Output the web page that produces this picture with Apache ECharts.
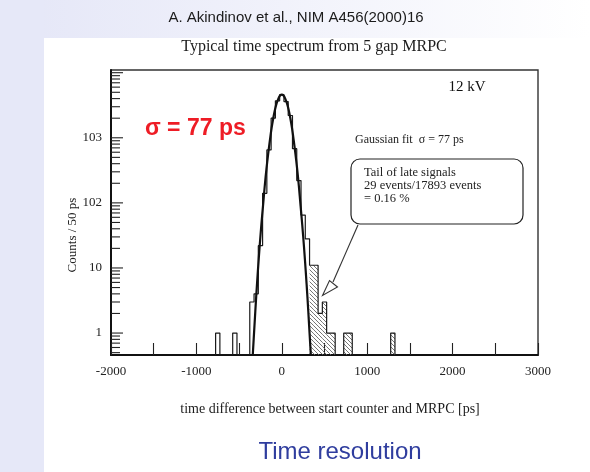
<!DOCTYPE html>
<html>
<head>
<meta charset="utf-8">
<script src="https://cdn.jsdelivr.net/npm/echarts@6/dist/echarts.min.js"></script>
<style>
  html, body { margin: 0; padding: 0; background: #ffffff; }
  #chart { width: 590px; height: 472px; }
</style>
</head>
<body>
<div id="chart"></div>
<script>
// Histogram of start-counter vs MRPC time differences (50 ps bins, non-empty bins only)
const binCenters = [-750, -550, -350, -300, -250, -200, -150, -100, -50, 0, 50, 100, 150, 200, 250, 300, 350, 400, 450, 500, 550, 600, 750, 800, 1300];
const binCounts  = [1, 1, 3, 4, 22, 140, 650, 2000, 3700, 4600, 3600, 2200, 680, 220, 65, 28, 11, 11, 2, 3, 1, 1, 1, 1, 1];

// Late-signal tail bins (hatched)
const tailCenters = [350, 400, 450, 500, 550, 600, 750, 800, 1300];

// Gaussian fit curve, sampled points
const fitTimes  = [-340, -320, -300, -280, -260, -240, -220, -200, -180, -160, -140, -120, -100, -80, -60, -40, -20, 0, 20, 40, 60, 80, 100, 120, 140, 160, 180, 200, 220, 240, 260, 280, 300, 320, 340];
const fitCounts = [0.46, 1.3, 3.6, 9, 21, 45, 90, 180, 330, 560, 900, 1400, 2000, 2700, 3400, 4000, 4450, 4600, 4450, 4000, 3400, 2700, 2000, 1400, 900, 560, 330, 180, 90, 45, 21, 9, 3.6, 1.3, 0.46];

// Axis tick labels
const xTickValues = [-2000, -1000, 0, 1000, 2000, 3000];
const xTickLabels = ['-2000', '-1000', '0', '1000', '2000', '3000'];
const yTickValues = [1, 10, 100, 1000];
const yTickLabels = ['1', '10', '102', '103'];

const BIN_WIDTH = 50;
const X_MIN = -2000, X_MAX = 3000;
const Y_MIN = 0.46, Y_MAX = 11000;

const SERIF = '"Liberation Serif", "DejaVu Serif", serif';
const SANS = '"Liberation Sans", Arial, sans-serif';

// Step outline of the histogram; gaps drop to the bottom of the frame
function buildOutline() {
  const pts = [];
  for (let i = 0; i < binCenters.length; i++) {
    const c = binCenters[i], n = binCounts[i];
    const left = c - BIN_WIDTH / 2, right = c + BIN_WIDTH / 2;
    const prevRight = i > 0 ? binCenters[i - 1] + BIN_WIDTH / 2 : null;
    const nextLeft = i < binCenters.length - 1 ? binCenters[i + 1] - BIN_WIDTH / 2 : null;
    if (prevRight !== left) pts.push([left, Y_MIN]);
    pts.push([left, n]);
    pts.push([right, n]);
    if (nextLeft !== right) pts.push([right, Y_MIN]);
  }
  return pts;
}

// Diagonal hatch pattern for the tail bins
function makeHatch() {
  const s = 4;
  const cv = document.createElement('canvas');
  cv.width = s; cv.height = s;
  const g = cv.getContext('2d');
  g.strokeStyle = '#666666';
  g.lineWidth = 0.9;
  g.beginPath();
  g.moveTo(-1, -1); g.lineTo(s + 1, s + 1);
  g.moveTo(-1, s - 1); g.lineTo(1, s + 1);
  g.moveTo(s - 1, -1); g.lineTo(s + 1, 1);
  g.stroke();
  return { image: cv, repeat: 'repeat' };
}
const hatch = makeHatch();

// Minor/major tick values for the log axis
const yMinorTicks = [];
for (let e = -1; e <= 4; e++) {
  for (let m = 1; m <= 9; m++) {
    const v = m * Math.pow(10, e);
    if (v >= Y_MIN && v <= Y_MAX) yMinorTicks.push([X_MIN, v, m === 1 ? 1 : 0]);
  }
}

const countByCenter = {};
binCenters.forEach((c, i) => { countByCenter[c] = binCounts[i]; });

const chart = echarts.init(document.getElementById('chart'), null, { renderer: 'canvas' });

chart.setOption({
  animation: false,
  backgroundColor: '#ffffff',
  grid: {
    left: 111, right: 52, top: 70, bottom: 117,
    show: true, borderColor: '#333333', borderWidth: 1.4, backgroundColor: 'transparent'
  },
  xAxis: {
    type: 'value', min: X_MIN, max: X_MAX, interval: 500,
    axisLine: { show: true, onZero: false, lineStyle: { color: '#111', width: 2 } },
    axisTick: { show: true, inside: true, length: 12, lineStyle: { color: '#222', width: 1.1 } },
    splitLine: { show: false },
    axisLabel: {
      margin: 10, fontFamily: SERIF, fontSize: 13, color: '#222',
      formatter: v => { const k = xTickValues.indexOf(v); return k >= 0 ? xTickLabels[k] : ''; }
    }
  },
  yAxis: {
    type: 'log', logBase: 10, min: Y_MIN, max: Y_MAX,
    axisLine: { show: true, onZero: false, lineStyle: { color: '#111', width: 2 } },
    axisTick: { show: false }, axisLabel: { show: false }, splitLine: { show: false }
  },
  graphic: [
    // slide background bands
    { type: 'rect', silent: true, z: -10, shape: { x: 0, y: 0, width: 590, height: 38 },
      style: { fill: new echarts.graphic.LinearGradient(0, 0, 1, 0, [
        { offset: 0, color: '#e4e6f7' }, { offset: 1, color: '#ffffff' }]) } },
    { type: 'rect', silent: true, z: -10, shape: { x: 0, y: 0, width: 44, height: 472 },
      style: { fill: '#e6e8f8' } },
    { type: 'text', x: 296, y: 18, style: { text: 'A. Akindinov et al., NIM A456(2000)16', font: '15px ' + SANS, fill: '#1b1b1b', textAlign: 'center', textVerticalAlign: 'middle' } },
    { type: 'text', x: 314, y: 47, style: { text: 'Typical time spectrum from 5 gap MRPC', font: '16px ' + SERIF, fill: '#1b1b1b', textAlign: 'center', textVerticalAlign: 'middle' } },
    { type: 'text', x: 467, y: 87, style: { text: '12 kV', font: '15px ' + SERIF, fill: '#111', textAlign: 'center', textVerticalAlign: 'middle' } },
    { type: 'text', x: 145, y: 129, style: { text: 'σ = 77 ps', font: 'bold 23px ' + SANS, fill: '#ee1c25', textAlign: 'left', textVerticalAlign: 'middle' } },
    { type: 'text', x: 355, y: 140, style: { text: 'Gaussian fit  σ = 77 ps', font: '12px ' + SERIF, fill: '#222', textAlign: 'left', textVerticalAlign: 'middle' } },
    { type: 'rect', shape: { x: 351, y: 159, width: 172, height: 65, r: 9 }, style: { fill: '#ffffff', stroke: '#222', lineWidth: 1.2 } },
    { type: 'text', x: 364, y: 173, style: { text: 'Tail of late signals', font: '12.5px ' + SERIF, fill: '#222', textAlign: 'left', textVerticalAlign: 'middle' } },
    { type: 'text', x: 364, y: 186, style: { text: '29 events/17893 events', font: '12.5px ' + SERIF, fill: '#222', textAlign: 'left', textVerticalAlign: 'middle' } },
    { type: 'text', x: 364, y: 199, style: { text: '= 0.16 %', font: '12.5px ' + SERIF, fill: '#222', textAlign: 'left', textVerticalAlign: 'middle' } },
    // arrow from the box to the tail
    { type: 'line', shape: { x1: 358, y1: 225, x2: 333, y2: 282 }, style: { stroke: '#333', lineWidth: 1.1 } },
    { type: 'polygon', shape: { points: [[322.5, 295.5], [329.5, 280.5], [337.5, 287]] }, style: { fill: '#ffffff', stroke: '#333', lineWidth: 1.1 } },
    { type: 'text', x: 73, y: 235, rotation: Math.PI / 2, style: { text: 'Counts / 50 ps', font: '13px ' + SERIF, fill: '#222', textAlign: 'center', textVerticalAlign: 'middle' } },
    { type: 'text', x: 330, y: 409, style: { text: 'time difference between start counter and MRPC [ps]', font: '14px ' + SERIF, fill: '#1b1b1b', textAlign: 'center', textVerticalAlign: 'middle' } },
    { type: 'text', x: 340, y: 452, style: { text: 'Time resolution', font: '24px ' + SANS, fill: '#2f3d9e', textAlign: 'center', textVerticalAlign: 'middle' } }
  ],
  series: [
    {
      name: 'tail', type: 'custom', z: 2,
      data: tailCenters.map(c => [c, countByCenter[c]]),
      encode: { x: 0, y: 1 },
      renderItem: (params, api) => {
        const c = api.value(0), n = api.value(1);
        const p1 = api.coord([c - BIN_WIDTH / 2, n]);
        const p2 = api.coord([c + BIN_WIDTH / 2, Y_MIN]);
        return { type: 'rect', shape: { x: p1[0], y: p1[1], width: p2[0] - p1[0], height: p2[1] - p1[1] }, style: { fill: hatch, stroke: null } };
      }
    },
    {
      name: 'histogram', type: 'line', z: 3,
      data: buildOutline(), showSymbol: false, symbol: 'none',
      lineStyle: { color: '#1a1a1a', width: 1.2 }
    },
    {
      name: 'fit', type: 'line', z: 4,
      data: fitTimes.map((t, i) => [t, fitCounts[i]]), showSymbol: false, symbol: 'none', smooth: 0.3,
      lineStyle: { color: '#111', width: 2.2 }
    },
    {
      name: 'yticks', type: 'custom', z: 5, silent: true,
      data: yMinorTicks, encode: { x: 0, y: 1 },
      renderItem: (params, api) => {
        const p = api.coord([api.value(0), api.value(1)]);
        const len = api.value(2) ? 12 : 9;
        return { type: 'line', shape: { x1: p[0], y1: p[1], x2: p[0] + len, y2: p[1] }, style: { stroke: '#222', lineWidth: 1.1 } };
      }
    },
    {
      name: 'ylabels', type: 'custom', z: 5, silent: true,
      data: yTickValues.map((v, i) => [X_MIN, v, i]), encode: { x: 0, y: 1 },
      renderItem: (params, api) => {
        const p = api.coord([api.value(0), api.value(1)]);
        return { type: 'text', x: p[0] - 9, y: p[1], style: { text: yTickLabels[api.value(2)], font: '13px ' + SERIF, fill: '#222', textAlign: 'right', textVerticalAlign: 'middle' } };
      }
    }
  ]
});
</script>
</body>
</html>
